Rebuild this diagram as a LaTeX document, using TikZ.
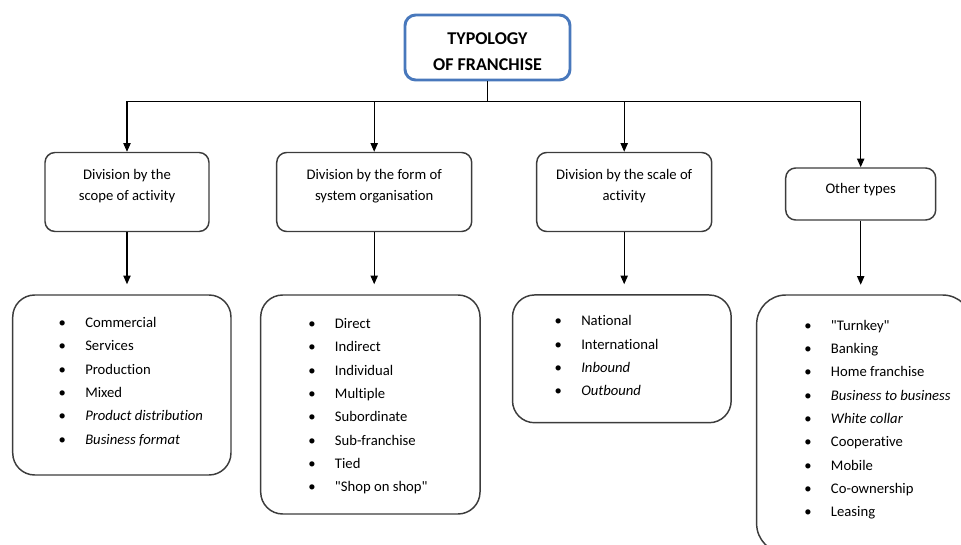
\documentclass[tikz,border=0pt]{standalone}
\usepackage{fontspec}
\setmainfont{Carlito}[Ligatures={NoCommon}]
\usetikzlibrary{arrows.meta}
\definecolor{titleblue}{RGB}{72,120,188}
\definecolor{boxgray}{RGB}{60,60,60}
\newcommand{\boxlines}[4]{\parbox[c][#2][t]{#1}{\centering\rule{0pt}{#3}#4}}
\newcommand{\itm}[1]{\makebox[12pt]{\textbullet} & #1\\}

\begin{document}
\begin{tikzpicture}[
  x=0.75pt, y=-0.75pt,
  titlebox/.style={draw=titleblue, line width=2.2pt, rounded corners=8pt,
            font=\bfseries\fontsize{13.5}{19.5}\selectfont, inner sep=0pt},
  mid/.style={draw=boxgray, line width=1.1pt, rounded corners=7.5pt, inner sep=0pt,
            font=\fontsize{11}{15.75}\selectfont},
  lst/.style={draw=boxgray, line width=1.1pt, rounded corners=16.5pt, inner sep=0pt},
  items/.style={anchor=north west, inner sep=0pt, font=\fontsize{11}{17.5}\selectfont},
  arr/.style={-{Triangle[length=6.5pt, width=5.5pt]}, line width=0.8pt}
]
\path[use as bounding box] (0,0) rectangle (961,545);
\clip (0,0) rectangle (961,545);

\node[titlebox] (title) at (487.5,47.5)
  {\boxlines{123.75pt}{48.75pt}{22pt}{TYPOLOGY\\OF FRANCHISE}};

% second level
\node[mid] (scope) at (127,192)
  {\boxlines{123pt}{59.25pt}{20.5pt}{Division by the\\scope of activity}};
\node[mid] (form) at (374.2,192)
  {\boxlines{146.25pt}{59.25pt}{20.5pt}{Division by the form of\\system organisation}};
\node[mid] (scale) at (624.2,192)
  {\boxlines{131.25pt}{59.25pt}{20.5pt}{Division by the scale of\\activity}};
\node[mid] (other) at (860.7,194)
  {\boxlines{112.5pt}{39pt}{19pt}{Other types}};

% lists
\node[lst, minimum width=163.7pt, minimum height=135pt] (scopelist) at (121.85,385) {};
\node[items] (scopeitems) at (54,311) {\begin{tabular}{@{}c@{\hspace{11.25pt}}l@{}}
  \itm{Commercial}
  \itm{Services}
  \itm{Production}
  \itm{Mixed}
  \itm{\textit{Product distribution}}
  \itm{\textit{Business format}}
\end{tabular}};

\node[lst, minimum width=164.5pt, minimum height=164.25pt] (formlist) at (370.35,404.5) {};
\node[items] (formitems) at (303.7,312) {\begin{tabular}{@{}c@{\hspace{11.25pt}}l@{}}
  \itm{Direct}
  \itm{Indirect}
  \itm{Individual}
  \itm{Multiple}
  \itm{Subordinate}
  \itm{Sub-franchise}
  \itm{Tied}
  \itm{\textquotedbl Shop on shop\textquotedbl}
\end{tabular}};

\node[lst, minimum width=164pt, minimum height=95.8pt] (scalelist) at (621.85,358.85) {};
\node[items] (scaleitems) at (550,309.4) {\begin{tabular}{@{}c@{\hspace{11.25pt}}l@{}}
  \itm{National}
  \itm{International}
  \itm{\textit{Inbound}}
  \itm{\textit{Outbound}}
\end{tabular}};

\node[lst, rounded corners=22pt, minimum width=161.5pt, minimum height=193.5pt] (otherlist) at (864.3,424) {};
\node[items] (otheritems) at (799.7,313.7) {\begin{tabular}{@{}c@{\hspace{11.25pt}}l@{}}
  \itm{\textquotedbl Turnkey\textquotedbl}
  \itm{Banking}
  \itm{Home franchise}
  \itm{\textit{Business to business}}
  \itm{\textit{White collar}}
  \itm{Cooperative}
  \itm{Mobile}
  \itm{Co-ownership}
  \itm{Leasing}
\end{tabular}};

\draw[arr] (title.south) -- ++(0,20) -| (scope.north);
\draw[arr] (title.south) -- ++(0,20) -| (form.north);
\draw[arr] (title.south) -- ++(0,20) -| (scale.north);
\draw[arr] (title.south) -- ++(0,20) -| (other.north);
\draw[arr] (scope.south) -- ++(0,52);
\draw[arr] (form.south) -- ++(0,52);
\draw[arr] (scale.south) -- ++(0,52);
\draw[arr] (other.south) -- ++(0,64);
\end{tikzpicture}
\end{document}
